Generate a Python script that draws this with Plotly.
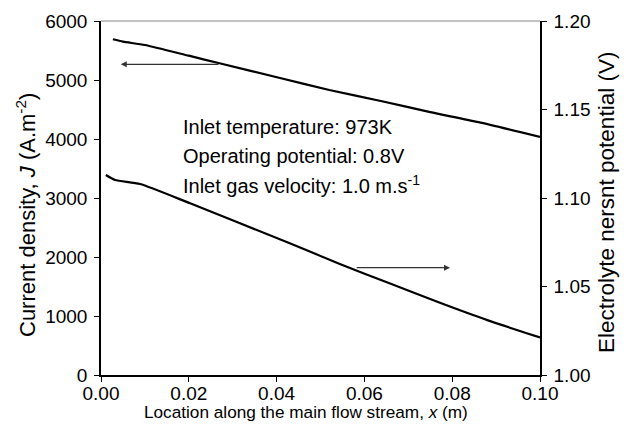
import plotly.graph_objects as go

# Current density (left axis)
x_j = [0.0027, 0.005, 0.01, 0.02, 0.027, 0.041, 0.052, 0.064, 0.075, 0.086, 0.1]
j_vals = [5690, 5650, 5593, 5412, 5283, 5029, 4830, 4640, 4455, 4285, 4035]

# Nernst potential (right axis)
x_v = [0.0011, 0.0032, 0.0089, 0.0203, 0.043, 0.0544, 0.066, 0.0772, 0.088, 0.1]
v_vals = [1.1130, 1.1102, 1.1079, 1.0970, 1.0744, 1.0627, 1.0515, 1.0408, 1.0310, 1.0212]

x_ticks = [0.00, 0.02, 0.04, 0.06, 0.08, 0.10]
y1_ticks = [0, 1000, 2000, 3000, 4000, 5000, 6000]
y2_ticks = [1.00, 1.05, 1.10, 1.15, 1.20]

notes = ["Inlet temperature: 973K",
         "Operating potential: 0.8V",
         "Inlet gas velocity: 1.0 m.s<sup>-1</sup>"]

FONT = "Arial, Liberation Sans, sans-serif"
W, H = 627, 431
L, R, T, B = 101, 87, 21, 56
PW, PH = W - L - R, H - T - B

fig = go.Figure()
fig.add_trace(go.Scatter(x=x_j, y=j_vals, mode="lines",
                         line=dict(color="black", width=2.2, shape="spline", smoothing=0.6),
                         yaxis="y", showlegend=False))
fig.add_trace(go.Scatter(x=x_v, y=v_vals, mode="lines",
                         line=dict(color="black", width=2.2, shape="spline", smoothing=0.6),
                         yaxis="y2", showlegend=False))

axis_common = dict(showgrid=False, zeroline=False, showline=True, linecolor="black", linewidth=1.5,
                   ticks="outside", ticklen=5, tickwidth=1.2, tickcolor="black",
                   tickfont=dict(size=19, color="black", family=FONT))

fig.update_layout(
    width=W, height=H,
    margin=dict(l=L, r=R, t=T, b=B),
    paper_bgcolor="white", plot_bgcolor="white",
    font=dict(family=FONT, color="black"),
    xaxis=dict(range=[0, 0.1], tickvals=x_ticks, ticktext=[f"{v:.2f}" for v in x_ticks],
               ticklabelstandoff=-5, **axis_common),
    yaxis=dict(range=[0, 6000], tickvals=y1_ticks, ticktext=[str(v) for v in y1_ticks],
               ticklabelstandoff=3, **axis_common),
    yaxis2=dict(range=[1.0, 1.2], tickvals=y2_ticks, ticktext=[f"{v:.2f}" for v in y2_ticks],
                overlaying="y", side="right", ticklabelstandoff=3, **axis_common),
)

def px_x(p):
    return (p - L) / PW

def px_y(p):
    return 1 - (p - T) / PH

# axis titles
fig.add_annotation(x=px_x(306), y=px_y(412), xref="paper", yref="paper", showarrow=False,
                   text="Location along the main flow stream, <i>x</i> (m)",
                   font=dict(size=17.2, family=FONT, color="black"), xanchor="center", yanchor="middle")
fig.add_annotation(x=px_x(26), y=px_y(215), xref="paper", yref="paper", showarrow=False,
                   text="Current density, <i>J</i> (A.m<sup>-2</sup>)", textangle=-90,
                   font=dict(size=22, family=FONT, color="black"), xanchor="center", yanchor="middle")
fig.add_annotation(x=px_x(606), y=px_y(203), xref="paper", yref="paper", showarrow=False,
                   text="Electrolyte nersnt potential (V)", textangle=-90,
                   font=dict(size=22.5, family=FONT, color="black"), xanchor="center", yanchor="middle")

# gray top border
fig.add_shape(type="line", xref="paper", yref="paper", x0=0, x1=1, y0=1, y1=1,
              line=dict(color="#888888", width=1.2))

# arrows
fig.add_annotation(x=0.0045, y=5266, ax=0.0271, ay=5266, xref="x", yref="y", axref="x", ayref="y",
                   text="", showarrow=True, arrowhead=2, arrowsize=1, arrowwidth=1.2,
                   arrowcolor="#333333")
fig.add_annotation(x=0.0795, y=1819, ax=0.0579, ay=1819, xref="x", yref="y", axref="x", ayref="y",
                   text="", showarrow=True, arrowhead=2, arrowsize=1, arrowwidth=1.2,
                   arrowcolor="#333333")

# text notes
for t, yp in zip(notes, [127, 156, 185]):
    fig.add_annotation(x=0.0182, y=px_y(yp), xref="x", yref="paper", text=t, showarrow=False,
                       xanchor="left", yanchor="middle", font=dict(size=20, family=FONT, color="black"))

fig.write_html("out.html")
